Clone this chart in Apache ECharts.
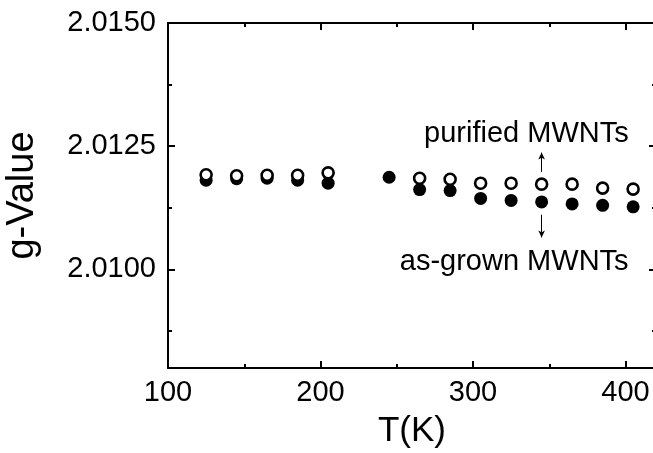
<!DOCTYPE html>
<html>
<head>
<meta charset="utf-8">
<script src="https://cdn.jsdelivr.net/npm/echarts@6/dist/echarts.min.js"></script>
<style>html,body{margin:0;padding:0;background:#fff}#c{width:653px;height:453px}</style>
</head>
<body>
<div id="c"></div>
<script>
// ---- data ----
var purifiedT = [125, 145, 165, 185, 205, 265, 285, 305, 325, 345, 365, 385, 405];
var purifiedG = [2.01192, 2.01190, 2.01191, 2.01191, 2.01196, 2.01185, 2.01183, 2.01175, 2.01175, 2.01173, 2.01173, 2.01165, 2.01163];
var grownT = [125, 145, 165, 185, 205, 245, 265, 285, 305, 325, 345, 365, 385, 405];
var grownG = [2.01181, 2.01184, 2.01185, 2.01181, 2.01175, 2.01187, 2.01162, 2.01160, 2.01144, 2.01140, 2.01137, 2.01133, 2.01130, 2.01127];
var xMajorTicks = [100, 200, 300, 400];
var xMinorTicks = [150, 250, 350];
var yMajorTicks = [2.0100, 2.0125, 2.0150];
var yMinorTicks = [2.00875, 2.01125, 2.01375];
var xRange = [100, 420];
var yRange = [2.0080, 2.0150];
var labelPurified = 'purified MWNTs';
var labelGrown = 'as-grown MWNTs';
var annoPurified = [335, 2.01274];
var annoGrown = [327, 2.01015];
var arrowUp = [[345, 2.01198], [345, 2.01237]];
var arrowDown = [[345, 2.01111], [345, 2.01065]];

function zip(a, b) { return a.map(function (v, i) { return [v, b[i]]; }); }

var tickFont = 'Liberation Sans';
var black = '#000';

function xAxisDef(pos, ticks, len, showLabel, showLine, name) {
  return {
    type: 'value', position: pos, min: xRange[0], max: xRange[1],
    name: name || '', nameLocation: 'middle', nameGap: 46,
    nameTextStyle: { fontFamily: 'Liberation Sans', fontSize: 35, color: black },
    axisLine: { show: showLine, lineStyle: { color: black, width: 2 } },
    axisTick: { show: true, inside: true, length: len, customValues: ticks, lineStyle: { color: black, width: 2 } },
    axisLabel: { show: showLabel, customValues: ticks, margin: 10, fontFamily: tickFont, fontSize: 29, color: black },
    splitLine: { show: false }, minorTick: { show: false }
  };
}
function yAxisDef(pos, ticks, len, showLabel, showLine, name) {
  return {
    type: 'value', position: pos, min: yRange[0], max: yRange[1],
    name: name || '', nameLocation: 'middle', nameGap: 126, nameRotate: 90,
    nameTextStyle: { fontFamily: 'Liberation Sans', fontSize: 38, color: black },
    axisLine: { show: showLine, lineStyle: { color: black, width: 2 } },
    axisTick: { show: true, inside: true, length: len, customValues: ticks, lineStyle: { color: black, width: 2 } },
    axisLabel: { show: showLabel, customValues: ticks, margin: 12, fontFamily: tickFont, fontSize: 29, color: black,
      formatter: function (v) { return v.toFixed(4); } },
    splitLine: { show: false }, minorTick: { show: false }
  };
}

var chart = echarts.init(document.getElementById('c'), null, { renderer: 'canvas' });
chart.setOption({
  animation: false,
  backgroundColor: '#fff',
  grid: { left: 168, top: 23, width: 488, height: 345, containLabel: false, outerBoundsMode: 'none' },
  xAxis: [
    xAxisDef('bottom', xMajorTicks, 7, true, true, 'T(K)'),
    xAxisDef('bottom', xMinorTicks, 4, false, false),
    xAxisDef('top', xMajorTicks, 7, false, true),
    xAxisDef('top', xMinorTicks, 4, false, false)
  ],
  yAxis: [
    yAxisDef('left', yMajorTicks, 7, true, true, 'g-Value'),
    yAxisDef('left', yMinorTicks, 4, false, false),
    yAxisDef('right', yMajorTicks, 7, false, true),
    yAxisDef('right', yMinorTicks, 4, false, false)
  ],
  series: [
    {
      name: 'as-grown MWNTs', type: 'scatter', silent: true, z: 2,
      data: zip(grownT, grownG), symbol: 'circle', symbolSize: 13,
      itemStyle: { color: black, opacity: 1 },
      markPoint: {
        silent: true, symbol: 'circle', symbolSize: 1, itemStyle: { color: 'rgba(0,0,0,0)' },
        label: { show: true, position: 'inside', color: black, fontFamily: 'Liberation Sans', fontSize: 29 },
        data: [
          { coord: annoPurified, label: { formatter: labelPurified } },
          { coord: annoGrown, label: { formatter: labelGrown } }
        ]
      },
      markLine: {
        silent: true, symbol: ['none', 'arrow'], symbolSize: [5, 7],
        lineStyle: { color: black, width: 1, type: 'solid' }, label: { show: false },
        data: [
          [{ coord: arrowUp[0] }, { coord: arrowUp[1] }],
          [{ coord: arrowDown[0] }, { coord: arrowDown[1] }]
        ]
      }
    },
    {
      name: 'purified MWNTs', type: 'scatter', silent: true, z: 3,
      data: zip(purifiedT, purifiedG), symbol: 'circle', symbolSize: 11,
      itemStyle: { color: '#fff', borderColor: black, borderWidth: 2.6, opacity: 1 }
    }
  ]
});
</script>
</body>
</html>
